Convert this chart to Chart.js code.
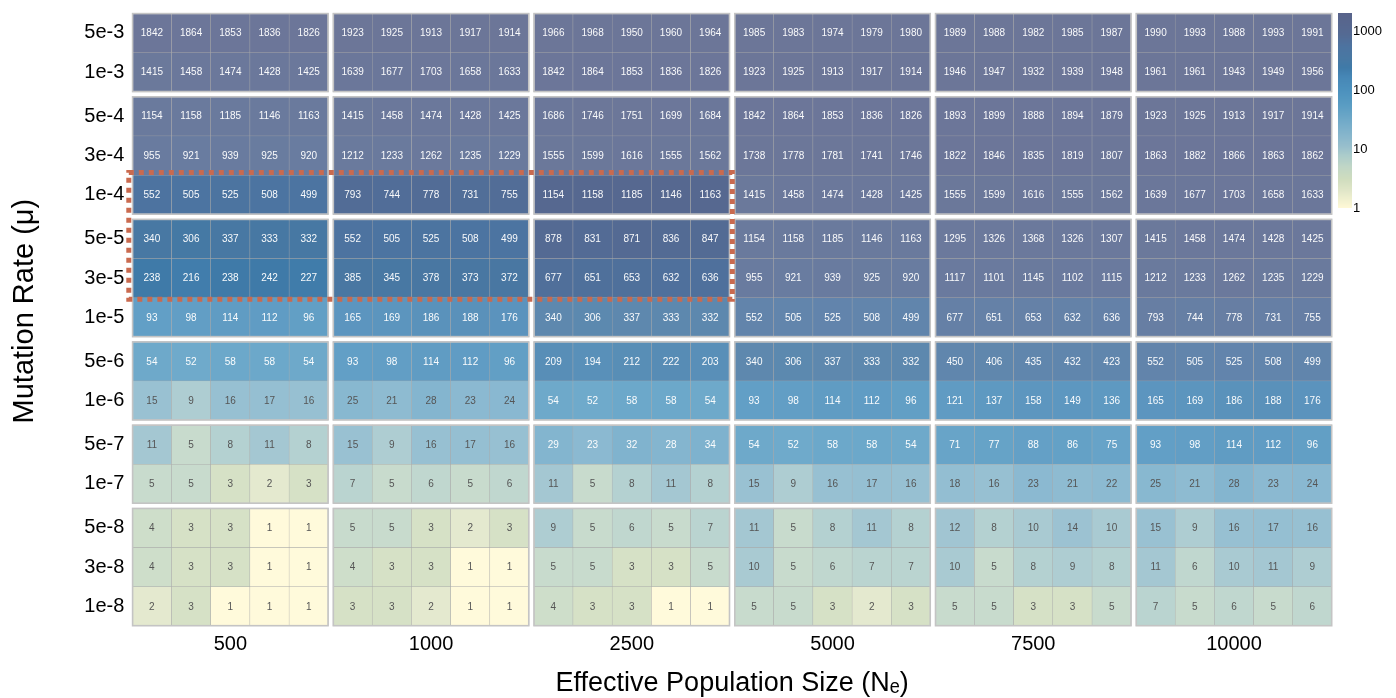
<!DOCTYPE html>
<html><head><meta charset="utf-8">
<script src="https://cdn.jsdelivr.net/npm/chart.js@4.4.1/dist/chart.umd.min.js"></script>
<style>html,body{margin:0;padding:0;background:#fff;}#wrap{width:1396px;height:698px;}</style>
</head><body><div id="wrap"><canvas id="c" width="1396" height="698"></canvas></div>
<script>
// ---------------- data ----------------
const neLabels = ['500', '1000', '2500', '5000', '7500', '10000'];
const muLabels = ['5e-3','1e-3','5e-4','3e-4','1e-4','5e-5','3e-5','1e-5','5e-6','1e-6','5e-7','1e-7','5e-8','3e-8','1e-8'];
const muGroupSizes = [2, 3, 3, 2, 2, 3];
const colorbarTicks = [1, 10, 100, 1000];
const highlightMu = ['1e-4', '5e-5', '3e-5'];
const highlightNe = ['500', '1000', '2500'];
const xTitle = 'Effective Population Size (N\u2091)';
const yTitle = 'Mutation Rate (\u03bc)';

const ne500 = [
  [1842,1864,1853,1836,1826],[1415,1458,1474,1428,1425],
  [1154,1158,1185,1146,1163],[955,921,939,925,920],[552,505,525,508,499],
  [340,306,337,333,332],[238,216,238,242,227],[93,98,114,112,96],
  [54,52,58,58,54],[15,9,16,17,16],
  [11,5,8,11,8],[5,5,3,2,3],
  [4,3,3,1,1],[4,3,3,1,1],[2,3,1,1,1]];
const ne1000 = [
  [1923,1925,1913,1917,1914],[1639,1677,1703,1658,1633],
  [1415,1458,1474,1428,1425],[1212,1233,1262,1235,1229],[793,744,778,731,755],
  [552,505,525,508,499],[385,345,378,373,372],[165,169,186,188,176],
  [93,98,114,112,96],[25,21,28,23,24],
  [15,9,16,17,16],[7,5,6,5,6],
  [5,5,3,2,3],[4,3,3,1,1],[3,3,2,1,1]];
const ne2500 = [
  [1966,1968,1950,1960,1964],[1842,1864,1853,1836,1826],
  [1686,1746,1751,1699,1684],[1555,1599,1616,1555,1562],[1154,1158,1185,1146,1163],
  [878,831,871,836,847],[677,651,653,632,636],[340,306,337,333,332],
  [209,194,212,222,203],[54,52,58,58,54],
  [29,23,32,28,34],[11,5,8,11,8],
  [9,5,6,5,7],[5,5,3,3,5],[4,3,3,1,1]];
const ne5000 = [
  [1985,1983,1974,1979,1980],[1923,1925,1913,1917,1914],
  [1842,1864,1853,1836,1826],[1738,1778,1781,1741,1746],[1415,1458,1474,1428,1425],
  [1154,1158,1185,1146,1163],[955,921,939,925,920],[552,505,525,508,499],
  [340,306,337,333,332],[93,98,114,112,96],
  [54,52,58,58,54],[15,9,16,17,16],
  [11,5,8,11,8],[10,5,6,7,7],[5,5,3,2,3]];
const ne7500 = [
  [1989,1988,1982,1985,1987],[1946,1947,1932,1939,1948],
  [1893,1899,1888,1894,1879],[1822,1846,1835,1819,1807],[1555,1599,1616,1555,1562],
  [1295,1326,1368,1326,1307],[1117,1101,1145,1102,1115],[677,651,653,632,636],
  [450,406,435,432,423],[121,137,158,149,136],
  [71,77,88,86,75],[18,16,23,21,22],
  [12,8,10,14,10],[10,5,8,9,8],[5,5,3,3,5]];
const ne10000 = [
  [1990,1993,1988,1993,1991],[1961,1961,1943,1949,1956],
  [1923,1925,1913,1917,1914],[1863,1882,1866,1863,1862],[1639,1677,1703,1658,1633],
  [1415,1458,1474,1428,1425],[1212,1233,1262,1235,1229],[793,744,778,731,755],
  [552,505,525,508,499],[165,169,186,188,176],
  [93,98,114,112,96],[25,21,28,23,24],
  [15,9,16,17,16],[11,6,10,11,9],[7,5,6,5,6]];
const neData = [ne500, ne1000, ne2500, ne5000, ne7500, ne10000];

// ---------------- layout helpers ----------------
const FONT = '"Liberation Sans", Arimo, Arial, "DejaVu Sans", sans-serif';
const REPS = 5, GAP = 0.12, CB_MAX = 2000, FADE = 0.88;
const groupOfRow = [], groupStartRow = [];
{ let r0 = 0; muGroupSizes.forEach((n, g) => { groupStartRow.push(r0); for (let i = 0; i < n; i++) groupOfRow.push(g); r0 += n; }); }
const rowTop = r => r + groupOfRow[r] * GAP;
const colLeft = (c, j) => c * (REPS + GAP) + j;
const X_MAX = neLabels.length * REPS + (neLabels.length - 1) * GAP;
const Y_MAX = muLabels.length + (muGroupSizes.length - 1) * GAP;

const STOPS = [[0,'#fff9d6'],[0.091,'#e0e6c8'],[0.145,'#d0ddbe'],[0.212,'#c0d6c6'],[0.274,'#aacbcb'],
  [0.315,'#98bfcc'],[0.365,'#89b7cc'],[0.423,'#78aeca'],[0.525,'#5a9dc3'],[0.597,'#4d92be'],
  [0.672,'#4687b6'],[0.72,'#3f7aa8'],[0.767,'#4878a3'],[0.831,'#4d73a0'],[0.892,'#546a93'],
  [0.928,'#566890'],[1,'#58638a']];
const hex = h => [1,3,5].map(i => parseInt(h.substr(i,2),16));
function colorFor(v, alpha) {
  let t = Math.log10(Math.max(v, 1)) / Math.log10(CB_MAX);
  t = Math.min(1, Math.max(0, t));
  let k = 0; while (k < STOPS.length - 2 && t > STOPS[k+1][0]) k++;
  const [t0, c0] = STOPS[k], [t1, c1] = STOPS[k+1];
  const f = (t - t0) / (t1 - t0);
  const a = hex(c0), b = hex(c1);
  const rgb = a.map((x, i) => x + (b[i] - x) * f).map(x => Math.round(x * alpha + 255 * (1 - alpha)));
  return `rgb(${rgb[0]},${rgb[1]},${rgb[2]})`;
}

// ---------------- datasets: one floating-bar row per mutation rate ----------------
const datasets = muLabels.map((mu, r) => {
  const data = [], bg = [], txt = [];
  neLabels.forEach((ne, c) => {
    const vals = neData[c][r];
    const mean = vals.reduce((a, b) => a + b, 0) / vals.length;
    const hl = highlightMu.includes(mu) && highlightNe.includes(ne);
    vals.forEach((v, j) => {
      data.push({ x: colLeft(c, j) + 0.5, y: [rowTop(r), rowTop(r) + 1], v });
      bg.push(colorFor(v, hl ? 1 : FADE));
      txt.push(mean >= 26 ? 'rgba(255,255,255,0.96)' : '#555555');
    });
  });
  return { label: mu, data, backgroundColor: bg, textColors: txt, borderColor: '#a9a9a9', borderWidth: 0.5,
    borderSkipped: false, grouped: false, barPercentage: 1, categoryPercentage: 1 };
});

// ---------------- plugins ----------------
const noPad = s => { s.paddingTop = 0; s.paddingBottom = 0; s.paddingLeft = 0; s.paddingRight = 0; };
const cellPlugin = {
  id: 'cells',
  afterLayout(chart) {
    const cb = chart.scales.cb;
    cb.top = chart.chartArea.top; cb.bottom = 208; cb.height = cb.bottom - cb.top;
    cb.configure();
  },
  afterDatasetsDraw(chart) {
    const ctx = chart.ctx, xs = chart.scales.x, ys = chart.scales.y;
    ctx.save();
    ctx.font = '10px ' + FONT; ctx.textAlign = 'center'; ctx.textBaseline = 'middle';
    chart.data.datasets.forEach((ds, i) => {
      chart.getDatasetMeta(i).data.forEach((bar, k) => {
        const p = bar.getProps(['x', 'y', 'base'], true);
        ctx.fillStyle = ds.textColors[k];
        ctx.fillText(String(ds.data[k].v), p.x, (p.y + p.base) / 2 + 0.5);
      });
    });
    // group outlines
    ctx.strokeStyle = '#c4c4c4'; ctx.lineWidth = 1.6;
    neLabels.forEach((ne, c) => {
      muGroupSizes.forEach((n, g) => {
        const r0 = groupStartRow[g];
        const x0 = xs.getPixelForValue(colLeft(c, 0)), x1 = xs.getPixelForValue(colLeft(c, REPS));
        const y0 = ys.getPixelForValue(rowTop(r0)), y1 = ys.getPixelForValue(rowTop(r0) + n);
        ctx.strokeRect(x0 + 0.3, y0 + 0.3, x1 - x0 - 0.6, y1 - y0 - 0.6);
      });
    });
    // highlight box
    const rA = muLabels.indexOf(highlightMu[0]), rB = muLabels.indexOf(highlightMu[highlightMu.length - 1]);
    const cA = neLabels.indexOf(highlightNe[0]), cB = neLabels.indexOf(highlightNe[highlightNe.length - 1]);
    const hx0 = xs.getPixelForValue(colLeft(cA, 0)) - 3.5, hx1 = xs.getPixelForValue(colLeft(cB, REPS)) + 2.5;
    const hy0 = ys.getPixelForValue(rowTop(rA)) - 2.5, hy1 = ys.getPixelForValue(rowTop(rB) + 1) + 1.5;
    ctx.strokeStyle = '#c96a4f'; ctx.lineWidth = 5; ctx.setLineDash([5, 5]);
    ctx.strokeRect(hx0, hy0, hx1 - hx0, hy1 - hy0);
    ctx.setLineDash([]);
    // colour bar
    const cb = chart.scales.cb;
    for (let py = Math.floor(cb.top); py < Math.ceil(cb.bottom); py++) {
      ctx.fillStyle = colorFor(cb.getValueForPixel(py + 0.5), 1);
      ctx.fillRect(cb.left + 6, py, 14, 1);
    }
    // y axis title
    const ca = chart.chartArea;
    ctx.translate(ys.left + 25, (ca.top + ca.bottom) / 2 - 8.5);
    ctx.rotate(-Math.PI / 2);
    ctx.font = '29px ' + FONT; ctx.fillStyle = '#000'; ctx.textAlign = 'center'; ctx.textBaseline = 'middle';
    ctx.fillText(yTitle, 0, 0);
    ctx.restore();
  }
};

new Chart(document.getElementById('c'), {
  type: 'bar',
  data: { datasets },
  options: {
    responsive: false, animation: false, devicePixelRatio: 1,
    layout: { padding: { top: 13.3, left: 0, right: 0, bottom: 0 } },
    plugins: { legend: { display: false }, tooltip: { enabled: false } },
    scales: {
      x: {
        type: 'linear', min: 0, max: X_MAX, offset: false,
        grid: { display: false, drawTicks: false }, border: { display: false },
        afterBuildTicks: s => { s.ticks = neLabels.map((l, c) => ({ value: colLeft(c, 0) + REPS / 2 })); },
        ticks: { autoSkip: false, maxRotation: 0, padding: 6, color: '#000', font: { family: FONT, size: 20 },
                 callback: (v, i) => neLabels[i] },
        title: { display: true, text: xTitle, color: '#000',
                 font: { family: FONT, size: 27 }, padding: { top: 0, bottom: -2 } },
        afterFit: s => { s.height = 72; noPad(s); }
      },
      y: {
        type: 'linear', reverse: true, min: 0, max: Y_MAX,
        grid: { display: false, drawTicks: false }, border: { display: false },
        afterBuildTicks: s => { s.ticks = muLabels.map((l, r) => ({ value: rowTop(r) + 0.5 })); },
        ticks: { autoSkip: false, padding: 8, color: '#000', font: { family: FONT, size: 20 },
                 callback: (v, i) => muLabels[i] },
        title: { display: false, text: yTitle },
        afterFit: s => { s.width = 132.3; noPad(s); }
      },
      cb: {
        type: 'logarithmic', position: 'right', min: 1, max: CB_MAX,
        grid: { display: false, drawTicks: false }, border: { display: false },
        afterBuildTicks: s => { s.ticks = colorbarTicks.map(v => ({ value: v })); },
        ticks: { autoSkip: false, padding: 21, color: '#000', font: { family: FONT, size: 13 },
                 callback: v => String(v) },
        afterFit: s => { s.width = 64; noPad(s); }
      }
    }
  },
  plugins: [cellPlugin]
});
</script></body></html>
